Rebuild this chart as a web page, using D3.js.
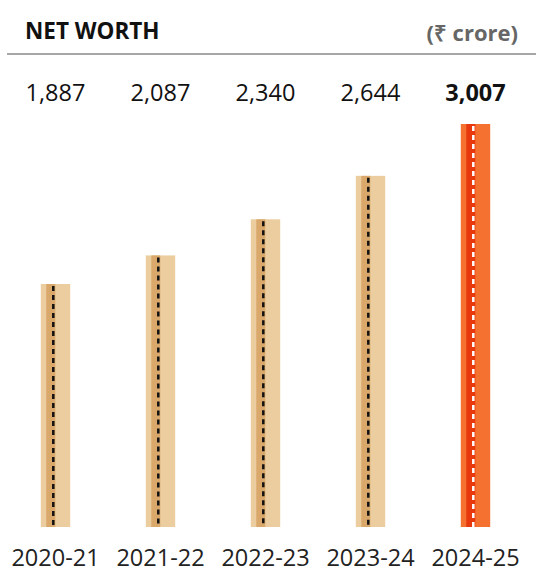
<!DOCTYPE html>
<html>
<head>
<meta charset="utf-8">
<script src="https://cdn.jsdelivr.net/npm/d3@7"></script>
<style>
  body { margin: 0; background: #fff; }
  svg { display: block; font-family: "Open Sans", sans-serif; }
</style>
</head>
<body>
<div id="chart"></div>
<script>
// data
var years = ["2020-21", "2021-22", "2022-23", "2023-24", "2024-25"]
var values = [1887, 2087, 2340, 2644, 3007]
var valueLabels = ["1,887", "2,087", "2,340", "2,644", "3,007"]

var width = 536, height = 572

var svg = d3.select("#chart").append("svg")
	.attr("width", width)
	.attr("height", height)

// header
svg.append("text")
	.attr("x", 25).attr("y", 39)
	.style("font-size", "22.5px").style("font-weight", "700")
	.style("fill", "#111")
	.text("NET WORTH")
svg.append("text")
	.attr("x", 518).attr("y", 41)
	.attr("text-anchor", "end")
	.style("font-size", "22px").style("font-weight", "700")
	.style("fill", "#666")
	.text("(₹ crore)")
svg.append("line")
	.attr("x1", 7).attr("x2", width)
	.attr("y1", 54).attr("y2", 54)
	.style("stroke", "#8a8a8a").style("stroke-width", 1.5)

// scales
var x = d3.scaleBand()
	.domain(years)
	.range([3, 528])
	.paddingInner(0.72)
	.paddingOuter(0.36)

var y = d3.scaleLinear()
	.domain([186, 3007])
	.range([527, 124])

var last = years.length - 1

var g = svg.append("g")
	.selectAll("g")
	.data(years)
	.enter().append("g")

// main bar
g.append("rect")
	.attr("x", function (d) { return x(d) })
	.attr("y", function (d, i) { return y(values[i]) })
	.attr("width", x.bandwidth())
	.attr("height", function (d, i) { return y.range()[0] - y(values[i]) })
	.style("fill", function (d, i) { return i == last ? "#f47130" : "#ebcd9f" })

// darker strip
g.append("rect")
	.attr("x", function (d) { return x(d) + 5.5 })
	.attr("y", function (d, i) { return y(values[i]) })
	.attr("width", 9)
	.attr("height", function (d, i) { return y.range()[0] - y(values[i]) })
	.style("fill", function (d, i) { return i == last ? "#e8380e" : "#d9a86a" })

// dashed line
g.append("line")
	.attr("x1", function (d) { return x(d) + 12.5 })
	.attr("x2", function (d) { return x(d) + 12.5 })
	.attr("y1", function (d, i) { return y(values[i]) + 2 })
	.attr("y2", y.range()[0])
	.style("stroke", function (d, i) { return i == last ? "#fff" : "#111" })
	.style("stroke-width", 2.5)
	.style("stroke-dasharray", "5,4")

// value labels
svg.append("g")
	.selectAll("text")
	.data(years)
	.enter().append("text")
	.attr("x", function (d) { return x(d) + x.bandwidth() / 2 })
	.attr("y", 101)
	.attr("text-anchor", "middle")
	.style("font-size", "23.5px")
	.style("font-weight", function (d, i) { return i == last ? "700" : "400" })
	.style("fill", "#111")
	.text(function (d, i) { return valueLabels[i] })

// category labels
svg.append("g")
	.selectAll("text")
	.data(years)
	.enter().append("text")
	.attr("x", function (d) { return x(d) + x.bandwidth() / 2 })
	.attr("y", 566)
	.attr("text-anchor", "middle")
	.style("font-size", "23.5px")
	.style("fill", "#222")
	.text(function (d) { return d })
</script>
</body>
</html>
